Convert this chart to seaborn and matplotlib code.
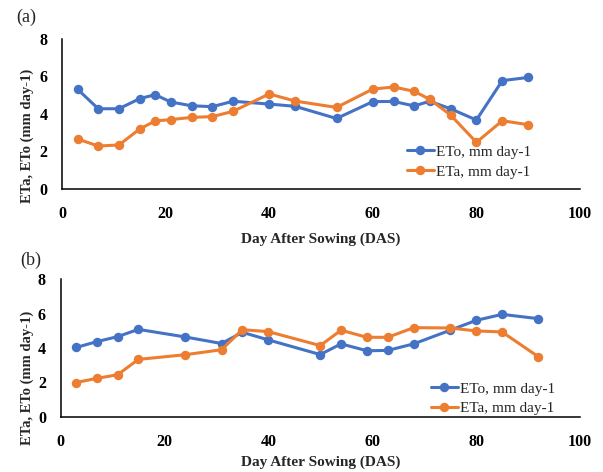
import matplotlib
matplotlib.use("Agg")
import matplotlib.pyplot as plt
import pandas as pd
import seaborn as sns

# ---------------------------------------------------------------------------
# Data
# ---------------------------------------------------------------------------
DAS_A = [3, 7, 11, 15, 18, 21, 25, 29, 33, 40, 45, 53, 60, 64, 68, 71, 75, 80, 85, 90]
ETO_A = [5.32, 4.28, 4.28, 4.82, 5.03, 4.64, 4.44, 4.39, 4.68, 4.53, 4.41, 3.76,
         4.66, 4.67, 4.43, 4.68, 4.28, 3.68, 5.78, 5.95]
ETA_A = [2.67, 2.29, 2.35, 3.20, 3.63, 3.70, 3.82, 3.86, 4.14, 5.07, 4.69, 4.35,
         5.33, 5.44, 5.21, 4.78, 3.95, 2.49, 3.64, 3.43]

DAS_B = [3, 7, 11, 15, 24, 31, 35, 40, 50, 54, 59, 63, 68, 75, 80, 85, 92]
ETO_B = [4.03, 4.37, 4.66, 5.08, 4.64, 4.26, 4.91, 4.47, 3.62, 4.24, 3.84, 3.86,
         4.24, 5.03, 5.60, 5.95, 5.70]
ETA_B = [2.00, 2.24, 2.45, 3.34, 3.61, 3.90, 5.06, 4.95, 4.14, 5.03, 4.62, 4.62,
         5.18, 5.16, 4.99, 4.93, 3.49]

SERIES = ["ETo, mm day-1", "ETa, mm day-1"]
COLORS = ["#4472C4", "#ED7D31"]
X_TICKS = [0, 20, 40, 60, 80, 100]
Y_TICKS = [0, 2, 4, 6, 8]
XLABEL = "Day After Sowing (DAS)"
YLABEL = "ETa, ETo (mm day-1)"

W, H = 603, 472
SERIF = ["Liberation Serif", "DejaVu Serif"]


def long_frame(das, eto, eta):
    return pd.DataFrame({
        "DAS": das + das,
        "value": eto + eta,
        "series": [SERIES[0]] * len(das) + [SERIES[1]] * len(das),
    })


def px_rect(left, top, right, bottom):
    return [left / W, 1 - bottom / H, (right - left) / W, (bottom - top) / H]


def draw_panel(fig, rect, df, tag, tag_xy, xlabel_base, ylabel_c, leg_anchor, leg_space):
    ax = fig.add_axes(rect)
    sns.lineplot(data=df, x="DAS", y="value", hue="series", hue_order=SERIES,
                 palette=COLORS, marker="o", markersize=6.8, markeredgewidth=0,
                 linewidth=2.2, sort=False, legend=False, ax=ax)
    ax.set_xlim(0, 100)
    ax.set_ylim(0, 8)
    ax.set_xticks(X_TICKS)
    ax.set_yticks(Y_TICKS)
    ax.set_xlabel("")
    ax.set_ylabel("")
    for s in ("top", "right"):
        ax.spines[s].set_visible(False)
    for s in ("left", "bottom"):
        ax.spines[s].set_color("black")
        ax.spines[s].set_linewidth(1.1)
    ax.tick_params(axis="x", length=3.5, width=1.1, direction="out", pad=8.5, colors="black")
    ax.tick_params(axis="y", length=3.5, width=1.1, direction="out", pad=7, colors="black")
    for lab in ax.get_xticklabels() + ax.get_yticklabels():
        lab.set_fontfamily(SERIF)
        lab.set_fontweight("bold")
        lab.set_fontsize(11.5)

    ax.legend(ax.lines[:2], SERIES, loc="upper left", bbox_to_anchor=leg_anchor,
              bbox_transform=fig.transFigure, frameon=False, borderpad=0,
              borderaxespad=0, handlelength=1.75, handletextpad=0.15,
              labelspacing=leg_space, prop={"family": SERIF, "size": 11})

    fig.text(321 / W, 1 - xlabel_base / H, XLABEL, ha="center", va="baseline",
             family=SERIF, fontweight="bold", fontsize=11)
    fig.text(27 / W, 1 - ylabel_c / H, YLABEL, ha="center", va="center",
             rotation=90, family=SERIF, fontweight="bold", fontsize=10.5)
    fig.text(tag_xy[0] / W, 1 - tag_xy[1] / H, tag, ha="left", va="center",
             family=SERIF, fontsize=13)
    return ax


def main():
    sns.set_theme(style="white")
    fig = plt.figure(figsize=(W / 100, H / 100), dpi=100)

    draw_panel(fig, px_rect(62, 39, 580, 189), long_frame(DAS_A, ETO_A, ETA_A),
               "(a)", (16, 17), 243, 136, (407 / W, 1 - 145 / H), 0.42)
    draw_panel(fig, px_rect(60.5, 279, 580, 417), long_frame(DAS_B, ETO_B, ETA_B),
               "(b)", (20, 260), 466, 378, (431 / W, 1 - 382 / H), 0.36)

    fig.savefig("out.png", dpi=100)
    plt.close(fig)


if __name__ == "__main__":
    main()
